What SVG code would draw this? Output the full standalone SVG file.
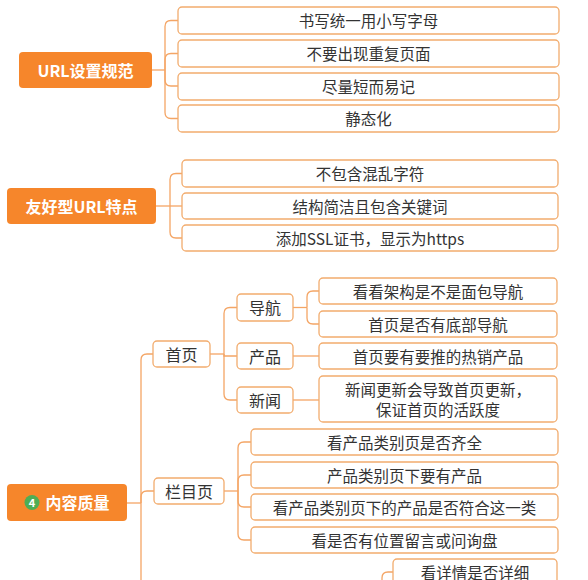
<svg xmlns="http://www.w3.org/2000/svg" width="588" height="580" viewBox="0 0 588 580">
<style>
text{font-family:"Noto Sans CJK SC","Noto Sans",sans-serif;dominant-baseline:central;text-anchor:middle}
.root rect{fill:#F6862B}
.root text{fill:#fff;font-size:16px;font-weight:bold}
.mid rect{fill:#fff;stroke:#F2AC6E;stroke-width:1.3}
.mid text{fill:#333;font-size:16px}
.leaf rect{fill:#fff;stroke:#F2AC6E;stroke-width:1.3}
.leaf text{fill:#333;font-size:15.5px}
#connectors path{fill:none;stroke:#F4A565;stroke-width:1.3}
</style>
<rect width="588" height="580" fill="#fff"/>
<g id="connectors">
<path d="M152,70H165"/>
<path d="M165,70V26.5Q165,20.5 171,20.5H178"/>
<path d="M165,70V59.5Q165,53.5 171,53.5H178"/>
<path d="M165,70V80Q165,86 171,86H178"/>
<path d="M165,70V112.5Q165,118.5 171,118.5H178"/>
<path d="M156,206H182"/>
<path d="M170,206V179.5Q170,173.5 176,173.5H182"/>
<path d="M170,206V232Q170,238 176,238H182"/>
<path d="M127,503H141"/>
<path d="M141,503V360Q141,354 147,354H153"/>
<path d="M141,503V497Q141,491 147,491H154"/>
<path d="M141,503V580"/>
<path d="M210,354H224"/>
<path d="M224,354V313.5Q224,307.5 230,307.5H237"/>
<path d="M224,354V356H237"/>
<path d="M224,354V394Q224,400 230,400H237"/>
<path d="M293,307.5H307"/>
<path d="M307,307.5V297Q307,291 313,291H319"/>
<path d="M307,307.5V318Q307,324 313,324H319"/>
<path d="M293,356H319"/>
<path d="M293,400H319"/>
<path d="M224,491H238"/>
<path d="M238,491V448Q238,442 244,442H251"/>
<path d="M238,491V481Q238,475 244,475H251"/>
<path d="M238,491V501Q238,507 244,507H251"/>
<path d="M238,491V534Q238,540 244,540H251"/>
<path d="M393,572H388Q382,572 382,578V580"/>
</g>
<g id="n-url" class="root"><rect x="19" y="52" width="133" height="36" rx="4"/><text x="85.5" y="69.5">URL设置规范</text></g>
<g id="n-url-1" class="leaf"><rect x="178" y="7" width="381" height="27" rx="4"/><text x="368.5" y="20">书写统一用小写字母</text></g>
<g id="n-url-2" class="leaf"><rect x="178" y="40" width="381" height="27" rx="4"/><text x="368.5" y="53">不要出现重复页面</text></g>
<g id="n-url-3" class="leaf"><rect x="178" y="73" width="381" height="27" rx="4"/><text x="368.5" y="85.5">尽量短而易记</text></g>
<g id="n-url-4" class="leaf"><rect x="178" y="105" width="381" height="27" rx="4"/><text x="368.5" y="118">静态化</text></g>
<g id="n-friendly" class="root"><rect x="7" y="188" width="149" height="36" rx="4"/><text x="81.5" y="205.5">友好型URL特点</text></g>
<g id="n-friendly-1" class="leaf"><rect x="182" y="160" width="376" height="27" rx="4"/><text x="370" y="173">不包含混乱字符</text></g>
<g id="n-friendly-2" class="leaf"><rect x="182" y="193" width="376" height="26" rx="4"/><text x="370" y="205.5">结构简洁且包含关键词</text></g>
<g id="n-friendly-3" class="leaf"><rect x="182" y="225" width="376" height="26" rx="4"/><text x="370" y="237.5">添加SSL证书，显示为https</text></g>
<g id="n-content" class="root"><rect x="7" y="484" width="120" height="37" rx="4"/><circle cx="32" cy="502.5" r="7.5" fill="#4DAE55"/><text x="32" y="502" style="font-size:11px;font-weight:bold">4</text><text x="77.5" y="502">内容质量</text></g>
<g id="n-home" class="mid"><rect x="153" y="341" width="57" height="26" rx="4"/><text x="181.5" y="353.5">首页</text></g>
<g id="n-nav" class="mid"><rect x="237" y="294" width="56" height="27" rx="4"/><text x="265" y="307">导航</text></g>
<g id="n-product" class="mid"><rect x="237" y="343" width="56" height="26" rx="4"/><text x="265" y="355.5">产品</text></g>
<g id="n-news" class="mid"><rect x="237" y="387" width="56" height="26" rx="4"/><text x="265" y="399.5">新闻</text></g>
<g id="n-nav-1" class="leaf"><rect x="319" y="278" width="238" height="26" rx="4"/><text x="438" y="290.5">看看架构是不是面包导航</text></g>
<g id="n-nav-2" class="leaf"><rect x="319" y="311" width="238" height="26" rx="4"/><text x="438" y="323.5">首页是否有底部导航</text></g>
<g id="n-product-1" class="leaf"><rect x="319" y="343" width="238" height="26" rx="4"/><text x="438" y="355.5">首页要有要推的热销产品</text></g>
<g id="n-news-1" class="leaf"><rect x="319" y="376" width="238" height="46" rx="4"/><text x="438" y="388.5">新闻更新会导致首页更新，</text><text x="438" y="408.5">保证首页的活跃度</text></g>
<g id="n-column" class="mid"><rect x="154" y="478" width="70" height="26" rx="4"/><text x="189" y="490.5">栏目页</text></g>
<g id="n-column-1" class="leaf"><rect x="251" y="429" width="307" height="26" rx="4"/><text x="404.5" y="441.5">看产品类别页是否齐全</text></g>
<g id="n-column-2" class="leaf"><rect x="251" y="462" width="307" height="26" rx="4"/><text x="404.5" y="474.5">产品类别页下要有产品</text></g>
<g id="n-column-3" class="leaf"><rect x="251" y="494" width="307" height="26" rx="4"/><text x="404.5" y="506.5">看产品类别页下的产品是否符合这一类</text></g>
<g id="n-column-4" class="leaf"><rect x="251" y="527" width="307" height="26" rx="4"/><text x="404.5" y="539.5">看是否有位置留言或问询盘</text></g>
<g id="n-detail-1" class="leaf"><rect x="393" y="559" width="164" height="26" rx="4"/><text x="475" y="571.5">看详情是否详细</text></g>
</svg>
